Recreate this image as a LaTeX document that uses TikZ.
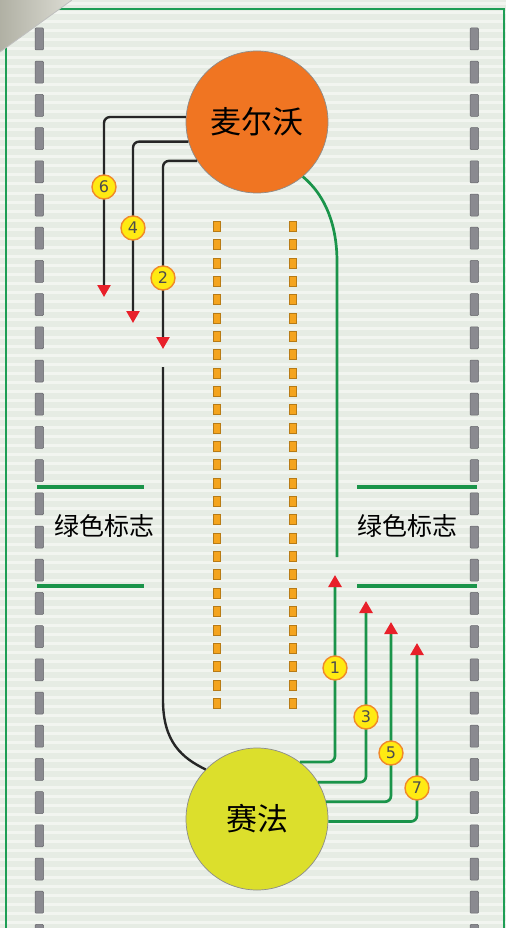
\documentclass[tikz,border=0pt]{standalone}
\usepackage{fontspec}
\newfontfamily\cjk{Noto Sans CJK SC}
\newfontfamily\numf{DejaVu Sans}
\usetikzlibrary{arrows.meta}
\definecolor{bgc}{HTML}{E6ECE4}
\definecolor{stripe}{HTML}{F6F8F4}
\definecolor{frameg}{HTML}{1E9E55}
\definecolor{grn}{HTML}{1A944A}
\definecolor{orangec}{HTML}{F07522}
\definecolor{yellowc}{HTML}{DCDF2C}
\definecolor{arrred}{HTML}{E8202A}
\definecolor{dashg}{HTML}{8A8A90}
\definecolor{laneo}{HTML}{F4A41E}
\definecolor{badgey}{HTML}{FFEA12}
\definecolor{badgeo}{HTML}{F0892A}
\definecolor{curl}{HTML}{C4C4B6}
\tikzset{
  city/.style={circle, minimum size=142pt, inner sep=0pt, draw=black!45, line width=0.7pt, font=\cjk\fontsize{31}{31}\selectfont},
  badge/.style={circle, fill=badgey, draw=badgeo, line width=1.4pt, minimum size=24pt, inner sep=0pt, font=\numf\fontsize{16}{16}\selectfont, text=black!70},
  blk/.style={draw=black!85, line width=2.4pt, rounded corners=6pt},
  grl/.style={draw=grn, line width=2.7pt, rounded corners=6pt},
  redtip/.style={-{Triangle[width=13pt,length=12pt,color=arrred]}},
  marker/.style={draw=grn, line width=4pt},
  sign/.style={font=\cjk\fontsize{25}{25}\selectfont, text=black},
  gdash/.style={fill=dashg, draw=dashg!75!black, line width=0.5pt, rounded corners=1pt},
  lanebox/.style={fill=laneo, draw=laneo!75!black, line width=0.4pt}
}
\begin{document}
\begin{tikzpicture}[x=1pt,y=-1pt]
\useasboundingbox (0,0) rectangle (506,928);
\begin{scope}
\clip (0,0) rectangle (506,928);
% background
\fill[bgc] (0,0) rectangle (506,928);
\foreach \i in {0,...,103} {
  \draw[stripe, line width=3pt, opacity=0.8] (0,{4+9*\i}) -- (506,{4+9*\i});
}
% frame
\draw[frameg, line width=2pt] (6,940) -- (6,9) -- (504,9) -- (504,940);
% page curl
\shade[left color=curl!90!black, right color=curl!60!white] (0,0) -- (72,0) -- (0,52) -- cycle;
\draw[black!25, line width=0.8pt] (72,0) -- (0,52);
% gray dashes
\foreach \i in {0,...,27} {
  \path[gdash] (35,{28+33.2*\i}) rectangle (43.5,{50+33.2*\i});
  \path[gdash] (470,{28+33.2*\i}) rectangle (478.5,{50+33.2*\i});
}
% orange lane markers
\foreach \i in {0,...,26} {
  \path[lanebox] (213.5,{221+18.35*\i}) rectangle (220.5,{231+18.35*\i});
  \path[lanebox] (289.5,{221+18.35*\i}) rectangle (296.5,{231+18.35*\i});
}
% green sign markers
\draw[marker] (37,487) -- (144,487);
\draw[marker] (37,586) -- (144,586);
\draw[marker] (357,487) -- (477,487);
\draw[marker] (357,586) -- (477,586);
\node[sign] (signl) at (104,526) {绿色标志};
\node[sign] (signr) at (407,526) {绿色标志};
\end{scope}
% cities
\node[city, fill=orangec] (mw) at (257,122) {麦尔沃};
\node[city, fill=yellowc] (sf) at (257,819) {赛法};
% arrow end coordinates
\coordinate (t6) at (104,297);
\coordinate (t4) at (133,323);
\coordinate (t2) at (163,349);
\coordinate (t1) at (335,575);
\coordinate (t3) at (366,601);
\coordinate (t5) at (391,622);
\coordinate (t7) at (417,643);
\coordinate (b0) at (163,367);
\coordinate (g1) at (337,557);
% black paths from mw
\draw[blk, redtip] (mw.176) -| (t6);
\draw[blk, redtip] (mw.196.4) -| (t4);
\draw[blk, redtip] (mw.213.3) -| (t2);
\draw[blk, rounded corners=0pt] (b0) -- (163,700) .. controls (163,742) and (182,758) .. (sf.136);
% green paths from sf
\draw[grl, redtip] (sf.53.4) -| (t1);
\draw[grl, redtip] (sf.31.4) -| (t3);
\draw[grl, redtip] (sf.14.7) -| (t5);
\draw[grl, redtip] (sf.-2.4) -| (t7);
\draw[grl, rounded corners=0pt] (mw.-50.6) .. controls (326,196) and (337,226) .. (337,262) -- (g1);
% badges
\node[badge] (n6) at (104,187) {6};
\node[badge] (n4) at (133,228) {4};
\node[badge] (n2) at (163,278) {2};
\node[badge] (n1) at (335,668) {1};
\node[badge] (n3) at (366,717) {3};
\node[badge] (n5) at (391,753) {5};
\node[badge] (n7) at (417,788) {7};
\end{tikzpicture}
\end{document}
